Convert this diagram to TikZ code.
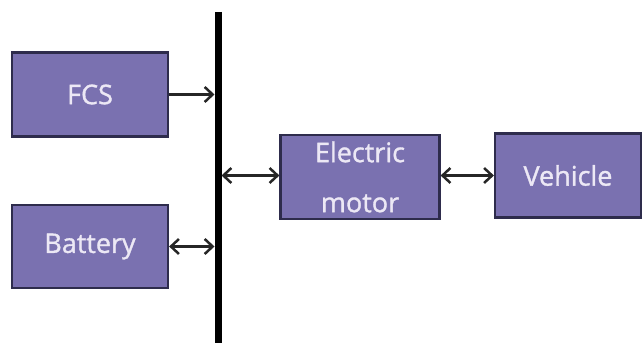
\documentclass[tikz,border=0pt]{standalone}
\usepackage{fontspec}
\setmainfont{Open Sans}
\newfontfamily\blockfont{Open Sans}[FakeBold=1.2]
\usetikzlibrary{arrows.meta,positioning}
\definecolor{boxfill}{RGB}{122,113,176}
\definecolor{boxline}{RGB}{46,44,76}
\definecolor{boxtext}{RGB}{236,232,245}
\tikzset{
  block/.style={
    shape = rectangle,
    draw = boxline,
    fill = boxfill,
    line width = 2.2pt,
    text = boxtext,
    font = \blockfont\fontsize{27}{32}\selectfont,
    inner sep = 0pt
  },
  busbar/.style={
    line width = 7pt,
    black
  },
  link/.style={
    line width = 2.5pt,
    draw = black!85,
    -{Straight Barb[length=8pt,width=15pt,line width=2.5pt]}
  },
  duplex/.style={
    link,
    {Straight Barb[length=8pt,width=15pt,line width=2.5pt]}-{Straight Barb[length=8pt,width=15pt,line width=2.5pt]}
  }
}
\begin{document}
\begin{tikzpicture}[x=1pt,y=1pt]
    \useasboundingbox (0,0) rectangle (643,343);

    % blocks
    \node[block, minimum width=156pt, minimum height=84pt] (fcs) at (90,248.5) {FCS};
    \node[block, minimum width=156pt, minimum height=83pt] (battery) at (90,96.5) {Battery};
    \node[block, minimum width=159pt, minimum height=84pt, align=center] (motor) at (360,166) {Electric\\[18pt]motor};
    \node[block, minimum width=146pt, minimum height=84pt] (vehicle) at (568,167.5) {Vehicle};

    % dc bus
    \coordinate (bustop) at (218,331);
    \coordinate (busbot) at (218,0);
    \draw[busbar] (bustop) -- (busbot);

    \coordinate (fcsin) at (214.5,248.5);
    \coordinate (batin) at (214.5,96.5);
    \coordinate (motout) at (221.5,167.5);

    % connectors
    \draw[link] (fcs.east) -- (fcsin);
    \draw[duplex] (battery.east) -- (batin);
    \draw[duplex] (motout) -- (motor.west|-motout);
    \draw[duplex] (motor.east|-vehicle.west) -- (vehicle.west);
\end{tikzpicture}
\end{document}
